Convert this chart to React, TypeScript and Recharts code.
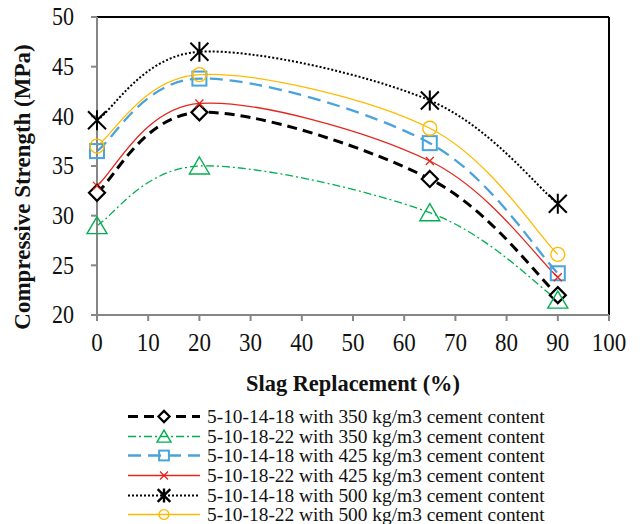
import React from "react";
import {
  LineChart,
  Line,
  XAxis,
  YAxis,
  ReferenceLine,
  Label,
} from "recharts";

// slag replacement levels (%)
const slag = [0, 20, 65, 90];

// compressive strength (MPa) per mix
const mix350a = [32.3, 40.4, 33.7, 22.0];
const mix350b = [29.0, 35.0, 30.3, 21.5];
const mix425a = [36.5, 43.8, 37.3, 24.2];
const mix425b = [33.0, 41.3, 35.5, 23.8];
const mix500a = [39.6, 46.5, 41.6, 31.2];
const mix500b = [37.0, 44.2, 38.8, 26.1];

const xTicks = [0, 10, 20, 30, 40, 50, 60, 70, 80, 90, 100];
const yTicks = [20, 25, 30, 35, 40, 45, 50];

const labels = [
  "5-10-14-18 with 350 kg/m3 cement content",
  "5-10-18-22 with 350 kg/m3 cement content",
  "5-10-14-18 with 425 kg/m3 cement content",
  "5-10-18-22 with 425 kg/m3 cement content",
  "5-10-14-18 with 500 kg/m3 cement content",
  "5-10-18-22 with 500 kg/m3 cement content",
];

const data = slag.map((x, i) => ({
  x,
  a350: mix350a[i],
  b350: mix350b[i],
  a425: mix425a[i],
  b425: mix425b[i],
  a500: mix500a[i],
  b500: mix500b[i],
}));

const FONT = "'Liberation Serif', 'Times New Roman', serif";
const AXIS_GRAY = "#868686";

// excel-like smoothed line (catmull-rom through the points)
const smoothCurve = (context: any) => {
  let pts: [number, number][] = [];
  return {
    areaStart() {},
    areaEnd() {},
    lineStart() {
      pts = [];
    },
    lineEnd() {
      if (!pts.length) return;
      context.moveTo(pts[0][0], pts[0][1]);
      for (let i = 0; i < pts.length - 1; i++) {
        const p0 = pts[Math.max(i - 1, 0)];
        const p1 = pts[i];
        const p2 = pts[i + 1];
        const p3 = pts[Math.min(i + 2, pts.length - 1)];
        context.bezierCurveTo(
          p1[0] + (p2[0] - p0[0]) / 6,
          p1[1] + (p2[1] - p0[1]) / 6,
          p2[0] - (p3[0] - p1[0]) / 6,
          p2[1] - (p3[1] - p1[1]) / 6,
          p2[0],
          p2[1]
        );
      }
    },
    point(x: number, y: number) {
      pts.push([x, y]);
    },
  };
};

type MarkerKind = "diamond" | "triangle" | "square" | "cross" | "star" | "circle";

const Marker = ({ kind, cx, cy, color, s = 1 }: { kind: MarkerKind; cx: number; cy: number; color: string; s?: number }) => {
  if (cx == null || cy == null) return null;
  switch (kind) {
    case "diamond":
      return (
        <path
          d={`M${cx},${cy - 8 * s} L${cx + 8 * s},${cy} L${cx},${cy + 8 * s} L${cx - 8 * s},${cy} Z`}
          fill="#fff"
          stroke={color}
          strokeWidth={2.2}
        />
      );
    case "triangle":
      return (
        <path
          d={`M${cx},${cy - 9 * s} L${cx + 10 * s},${cy + 8 * s} L${cx - 10 * s},${cy + 8 * s} Z`}
          fill="none"
          stroke={color}
          strokeWidth={1.4}
        />
      );
    case "square":
      return <rect x={cx - 7 * s} y={cy - 7 * s} width={14 * s} height={14 * s} fill="none" stroke={color} strokeWidth={2} />;
    case "cross":
      return (
        <path
          d={`M${cx - 4},${cy - 4} L${cx + 4},${cy + 4} M${cx - 4},${cy + 4} L${cx + 4},${cy - 4}`}
          stroke={color}
          strokeWidth={1.3}
        />
      );
    case "star":
      return (
        <path
          d={`M${cx - 9 * s},${cy - 9 * s} L${cx + 9 * s},${cy + 9 * s} M${cx - 9 * s},${cy + 9 * s} L${cx + 9 * s},${cy - 9 * s} M${cx},${cy - 10 * s} L${cx},${cy + 10 * s}`}
          stroke={color}
          strokeWidth={s < 1 ? 2.4 : 2}
        />
      );
    case "circle":
    default:
      return <circle cx={cx} cy={cy} r={7 * s} fill="none" stroke={color} strokeWidth={1.4} />;
  }
};

const series = [
  { key: "a350", color: "#000000", width: 3, dash: "10 6", marker: "diamond" as MarkerKind },
  { key: "b350", color: "#00B050", width: 1.3, dash: "8 3 2 3", marker: "triangle" as MarkerKind },
  { key: "a425", color: "#4AA3DA", width: 2.3, dash: "13 7", marker: "square" as MarkerKind },
  { key: "b425", color: "#E3261E", width: 1.3, dash: undefined, marker: "cross" as MarkerKind },
  { key: "a500", color: "#000000", width: 2, dash: "2 2", marker: "star" as MarkerKind },
  { key: "b500", color: "#FFBA00", width: 1.3, dash: undefined, marker: "circle" as MarkerKind },
];

const XTick = ({ x, y, payload }: any) => (
  <text
    transform={`translate(${x}, ${y}) scale(1, 1.1)`}
    x={0}
    y={0}
    dy="0.72em"
    textAnchor="middle"
    fontFamily={FONT}
    fontSize={23}
    fill="#111"
  >
    {payload.value}
  </text>
);

const YTick = ({ x, y, payload }: any) => (
  <text
    transform={`translate(${x}, ${y}) scale(1, 1.1)`}
    x={0}
    y={0}
    dy="0.34em"
    textAnchor="end"
    fontFamily={FONT}
    fontSize={22}
    fill="#111"
  >
    {payload.value}
  </text>
);

const YTitle = () => {
  const x = 22;
  const y = 187;
  return (
    <text
      x={x}
      y={y}
      transform={`rotate(-90, ${x}, ${y})`}
      textAnchor="middle"
      dominantBaseline="central"
      fontFamily={FONT}
      fontWeight="bold"
      fontSize={23}
      fill="#111"
    >
      Compressive Strength (MPa)
    </text>
  );
};

const LegendBox = () => (
  <div style={{ position: "absolute", left: 126, top: 407 }}>
    {series.map((s, i) => (
      <div key={s.key} style={{ display: "flex", alignItems: "center", height: 19.6 }}>
        <svg width={76} height={19} style={{ overflow: "visible" }}>
          <line x1={2} y1={9.5} x2={74} y2={9.5} stroke={s.color} strokeWidth={s.width} strokeDasharray={s.dash} />
          <Marker kind={s.marker} cx={38} cy={9.5} color={s.color} s={0.7} />
        </svg>
        <span
          style={{
            fontFamily: FONT,
            fontSize: 19.4,
            color: "#111",
            marginLeft: 5,
            whiteSpace: "nowrap",
            lineHeight: "19px",
          }}
        >
          {labels[i]}
        </span>
      </div>
    ))}
  </div>
);

export default function App() {
  return (
    <div
      style={{
        position: "absolute",
        left: 0,
        top: 0,
        width: 643,
        height: 524,
        overflow: "hidden",
        background: "#fff",
        fontFamily: FONT,
      }}
    >
      <style>{`html, body { margin: 0; overflow: hidden; }`}</style>
      <LineChart width={643} height={524} data={data} margin={{ top: 17, right: 34, left: 0, bottom: 129 }}>
        <XAxis
          dataKey="x"
          type="number"
          domain={[0, 100]}
          ticks={xTicks}
          interval={0}
          height={80}
          stroke={AXIS_GRAY}
          strokeWidth={2}
          tickSize={6}
          tickMargin={12}
          tick={<XTick />}
        >
          <Label
            value="Slag Replacement (%)"
            position="insideBottom"
            offset={4}
            fontFamily={FONT}
            fontWeight="bold"
            fontSize={22.4}
            fill="#111"
          />
        </XAxis>
        <YAxis
          type="number"
          domain={[20, 50]}
          ticks={yTicks}
          interval={0}
          width={97}
          stroke={AXIS_GRAY}
          strokeWidth={2}
          tickSize={6}
          tickMargin={17}
          tick={<YTick />}
        >
          <Label content={<YTitle />} />
        </YAxis>
        <ReferenceLine y={50} stroke="#000" strokeWidth={2} />
        <ReferenceLine x={100} stroke="#000" strokeWidth={2} />
        {series.map((s) => (
          <Line
            key={s.key}
            dataKey={s.key}
            type={smoothCurve as any}
            stroke={s.color}
            strokeWidth={s.width}
            strokeDasharray={s.dash}
            isAnimationActive={false}
            dot={(p: any) => <Marker key={`${s.key}-${p.index}`} kind={s.marker} cx={p.cx} cy={p.cy} color={s.color} />}
            activeDot={false}
          />
        ))}
      </LineChart>
      <LegendBox />
    </div>
  );
}
